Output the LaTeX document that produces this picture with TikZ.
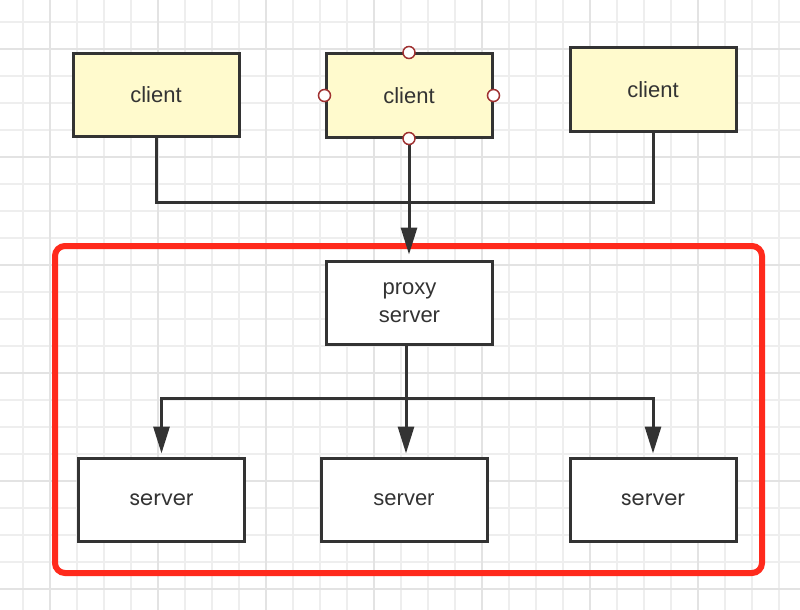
\documentclass[tikz,border=0pt]{standalone}
\usepackage{fontspec}
\setmainfont{Liberation Sans}
\newfontfamily\popfont{Poppins}
\usetikzlibrary{arrows.meta}
\definecolor{gridminor}{HTML}{EEEEEE}
\definecolor{gridmajor}{HTML}{E3E3E3}
\definecolor{ink}{HTML}{333333}
\definecolor{clientfill}{HTML}{FFFACD}
\definecolor{framered}{HTML}{FF2A1C}
\definecolor{handlered}{HTML}{A03232}
\begin{document}
\begin{tikzpicture}[x=1pt,y=-1pt,
  box/.style={draw=ink, line width=3pt, minimum width=166pt, minimum height=83pt,
    inner sep=0pt, text=ink, font=\fontsize{22}{28}\selectfont, align=center},
  clientbox/.style={box, fill=clientfill},
  serverbox/.style={box, fill=white},
  popbox/.style={serverbox, font=\popfont\fontsize{21}{26}\selectfont},
  conn/.style={draw=ink, line width=3pt},
  arr/.style={conn, -{Triangle[length=27pt,width=16pt]}, shorten >=3pt},
  handle/.style={circle, draw=handlered, fill=white, line width=1.5pt,
    minimum size=12pt, inner sep=0pt}]
\useasboundingbox (0,0) rectangle (800,610);
\fill[white] (0,0) rectangle (800,610);
% grid
\foreach \x in {-4,23,...,800} \draw[gridminor, line width=1.5pt] (\x,0) -- (\x,610);
\foreach \y in {-5,22,...,610} \draw[gridminor, line width=1.5pt] (0,\y) -- (800,\y);
\foreach \x in {50,158,...,800} \draw[gridmajor, line width=1.5pt] (\x,0) -- (\x,610);
\foreach \y in {49,157,...,610} \draw[gridmajor, line width=1.5pt] (0,\y) -- (800,\y);
% nodes
\node[clientbox] (client1) at (156,95) {client};
\node[clientbox] (client2) at (409,95.5) {client};
\node[clientbox] (client3) at (653,89.5) {client};
\node[serverbox] (proxy) at (409.5,302.5) {proxy\\server};
\node[popbox] (server1) at (161.5,499.5) {server};
\node[serverbox] (server2) at (404,499.5) {server};
\node[popbox] (server3) at (653,499.5) {server};
% frame
\draw[framered, line width=6pt, rounded corners=10pt] (55,246) rectangle (762,573);
% connectors
\coordinate (bus) at (0,202);
\draw[conn] (client1.south) -- (client1.south |- bus) -| (client3.south);
\draw[arr, shorten >=5pt] (client2.south) -- (proxy.north -| client2.south);
\coordinate (split) at (406,398);
\draw[conn] (proxy.south -| split) -- (split);
\draw[arr] (split) -| (server1.north);
\draw[arr] (split) -| (server3.north);
\draw[arr] (split) -- (server2.north -| split);
% handles
\foreach \a in {north,south,east,west}
  \node[handle] (h\a) at (client2.\a) {};
\end{tikzpicture}
\end{document}
